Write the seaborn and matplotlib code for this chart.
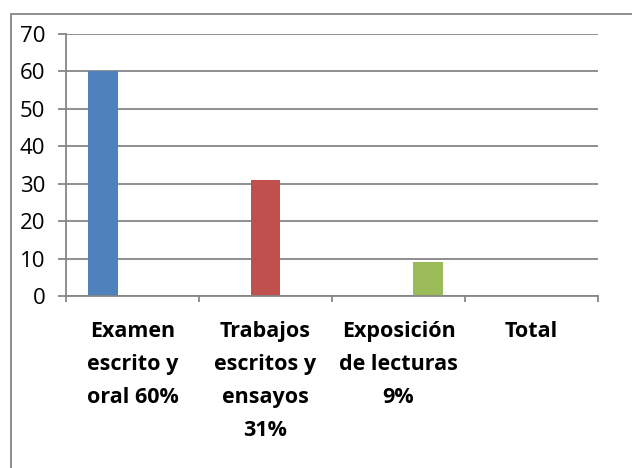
import seaborn as sns
import matplotlib.pyplot as plt
import matplotlib.patches as mpatches
import pandas as pd

categories = ["Examen\nescrito y\noral 60%", "Trabajos\nescritos y\nensayos\n31%",
              "Exposición\nde lecturas\n9%", "Total"]
series = ["Serie1", "Serie2", "Serie3"]
values = [60, 31, 9]
colors = ["#4F81BD", "#C0504D", "#9BBB59"]
grid_color = "#868686"

df = pd.DataFrame({"categoria": categories[:3], "serie": series, "valor": values})

sns.set_style("white")
plt.rcParams["font.family"] = ["Open Sans", "DejaVu Sans"]

fig = plt.figure(figsize=(6.32, 4.68), dpi=100)
ax = fig.add_axes([66 / 632, 172 / 468, (598 - 66) / 632, (296 - 34) / 468])

sns.barplot(data=df, x="categoria", y="valor", hue="serie", order=categories,
            hue_order=series, palette=colors, width=0.675, gap=0, dodge=True,
            saturation=1, linewidth=0, legend=False, ax=ax)

ax.set_xlim(-0.5, 3.5)
ax.set_ylim(0, 70)
ax.set_yticks(range(0, 71, 10))
ax.set_xlabel("")
ax.set_ylabel("")

ax.grid(axis="y", color=grid_color, linewidth=1.3)
ax.set_axisbelow(True)
for s in ["top", "right"]:
    ax.spines[s].set_visible(False)
for s in ["left", "bottom"]:
    ax.spines[s].set_color(grid_color)
    ax.spines[s].set_linewidth(1.3)

ax.tick_params(axis="y", length=6, width=1.3, color=grid_color, pad=9,
               labelsize=16, labelcolor="black", left=True)
ax.set_xticks([-0.5, 0.5, 1.5, 2.5, 3.5], minor=True)
ax.tick_params(axis="x", which="minor", length=4, width=1.3, color=grid_color, bottom=True)
ax.tick_params(axis="x", which="major", length=0, pad=18)
for lab in ax.get_xticklabels():
    lab.set_fontsize(15.5)
    lab.set_fontweight("bold")
    lab.set_color("black")
    lab.set_linespacing(1.75)
    lab.set_verticalalignment("top")

# chart area border (cut at right and bottom like the source)
fig.patches.append(mpatches.Rectangle((11 / 632, -0.1), 2, (468 - 14) / 468 + 0.1,
                                      transform=fig.transFigure, fill=False,
                                      edgecolor=grid_color, linewidth=1.3))

plt.savefig("out.png", dpi=100)
plt.close()
